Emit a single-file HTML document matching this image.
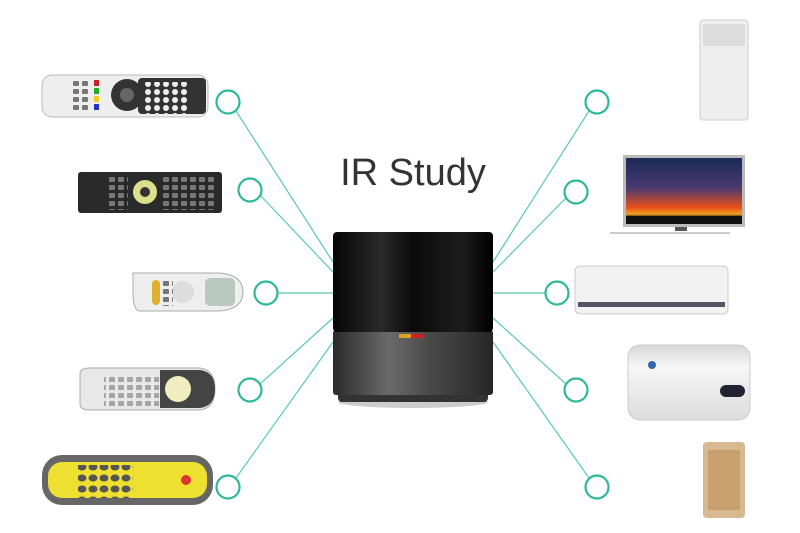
<!DOCTYPE html>
<html><head><meta charset="utf-8"><style>
html,body{margin:0;padding:0;background:#fff;}
svg{display:block;}
</style></head><body>
<svg width="800" height="533" viewBox="0 0 800 533" xmlns="http://www.w3.org/2000/svg">
<defs>
<linearGradient id="blk" x1="0" x2="1"><stop offset="0" stop-color="#050505"/><stop offset="0.3" stop-color="#2a2a2a"/><stop offset="0.5" stop-color="#0a0a0a"/><stop offset="0.8" stop-color="#1c1c1c"/><stop offset="1" stop-color="#000"/></linearGradient>
<linearGradient id="gry" x1="0" x2="1"><stop offset="0" stop-color="#2a2a2a"/><stop offset="0.35" stop-color="#6a6a6a"/><stop offset="0.6" stop-color="#4a4a4a"/><stop offset="1" stop-color="#262626"/></linearGradient>
<linearGradient id="sky" x1="0" y1="0" x2="0" y2="1"><stop offset="0" stop-color="#1a2a55"/><stop offset="0.45" stop-color="#4a3a70"/><stop offset="0.75" stop-color="#e8501a"/><stop offset="0.85" stop-color="#f0a020"/><stop offset="0.9" stop-color="#111"/></linearGradient>
<linearGradient id="cyl" x1="0" y1="0" x2="0" y2="1"><stop offset="0" stop-color="#d8d8d8"/><stop offset="0.3" stop-color="#f6f6f6"/><stop offset="1" stop-color="#dcdcdc"/></linearGradient>
<pattern id="btnw" width="9" height="8" patternUnits="userSpaceOnUse"><circle cx="4" cy="4" r="3" fill="#eee"/></pattern>
<pattern id="btnd" width="9" height="8" patternUnits="userSpaceOnUse"><rect x="1" y="1" width="6" height="5" rx="1" fill="#777"/></pattern>
<pattern id="btny" width="11" height="11" patternUnits="userSpaceOnUse"><ellipse cx="5" cy="5" rx="4.5" ry="3.5" fill="#555"/></pattern>
</defs>
<g stroke="#5cc8b0" stroke-width="1.2" fill="none">
<line x1="236" y1="111" x2="333" y2="262"/>
<line x1="261" y1="196" x2="333" y2="272"/>
<line x1="278" y1="293" x2="333" y2="293"/>
<line x1="260" y1="384" x2="333" y2="318"/>
<line x1="236" y1="478" x2="333" y2="342"/>
<line x1="589" y1="111" x2="493" y2="262"/>
<line x1="566" y1="198" x2="493" y2="272"/>
<line x1="545" y1="293" x2="493" y2="293"/>
<line x1="566" y1="384" x2="493" y2="318"/>
<line x1="589" y1="478" x2="493" y2="342"/>
</g>
<g stroke="#2db89a" stroke-width="2.2" fill="#fff">
<circle cx="228" cy="102" r="11.5"/><circle cx="250" cy="190" r="11.5"/><circle cx="266" cy="293" r="11.5"/><circle cx="250" cy="390" r="11.5"/><circle cx="228" cy="487" r="11.5"/>
<circle cx="597" cy="102" r="11.5"/><circle cx="576" cy="192" r="11.5"/><circle cx="557" cy="293" r="11.5"/><circle cx="576" cy="390" r="11.5"/><circle cx="597" cy="487" r="11.5"/>
</g>
<text x="413" y="185" text-anchor="middle" font-family="Liberation Sans, sans-serif" font-size="38" fill="#333">IR Study</text>
<!-- hub -->
<ellipse cx="413" cy="402" rx="75" ry="6" fill="#ccc"/>
<rect x="338" y="390" width="150" height="12" rx="4" fill="#333"/>
<rect x="333" y="330" width="160" height="65" rx="3" fill="url(#gry)"/>
<rect x="333" y="232" width="160" height="100" rx="4" fill="url(#blk)"/>
<rect x="399" y="334" width="12" height="4" fill="#e0a020"/><rect x="411" y="334" width="13" height="4" fill="#d42020"/>
<!-- remotes left -->
<rect x="42" y="75" width="166" height="42" rx="10" fill="#eee" stroke="#bbb"/>
<rect x="138" y="78" width="68" height="36" rx="4" fill="#333"/>
<rect x="145" y="82" width="45" height="32" fill="url(#btnw)"/>
<circle cx="127" cy="95" r="16" fill="#333"/><circle cx="127" cy="95" r="7" fill="#666"/>
<rect x="72" y="80" width="18" height="32" fill="url(#btnd)"/>
<rect x="94" y="80" width="5" height="6" fill="#c22"/><rect x="94" y="88" width="5" height="6" fill="#2a2"/><rect x="94" y="96" width="5" height="6" fill="#ec2"/><rect x="94" y="104" width="5" height="6" fill="#23c"/>
<rect x="78" y="172" width="144" height="41" rx="3" fill="#2a2a2a"/>
<rect x="160" y="176" width="55" height="34" fill="url(#btnd)"/>
<rect x="106" y="176" width="22" height="34" fill="url(#btnd)"/>
<circle cx="145" cy="192" r="12" fill="#dde08a"/><circle cx="145" cy="192" r="5" fill="#333"/>
<path d="M133 273 H220 Q243 275 243 292 Q243 309 220 311 H140 Q133 311 133 292 Z" fill="#eee" stroke="#aaa"/>
<rect x="205" y="278" width="30" height="28" rx="5" fill="#b8c8c0"/><rect x="152" y="280" width="8" height="25" rx="4" fill="#e0b030"/>
<circle cx="183" cy="292" r="11" fill="#ddd"/><rect x="163" y="280" width="10" height="26" fill="url(#btnd)"/>
<path d="M80 374 Q80 368 90 368 H200 Q215 370 215 389 Q215 408 200 410 H90 Q80 410 80 404 Z" fill="#e8e8e8" stroke="#aaa"/>
<rect x="104" y="374" width="55" height="32" fill="url(#btnd)" opacity="0.6"/>
<path d="M160 370 H200 Q215 372 215 389 Q215 406 200 408 H160 Z" fill="#444"/><circle cx="178" cy="389" r="13" fill="#eeeec0"/>
<rect x="42" y="455" width="171" height="50" rx="20" fill="#666"/>
<rect x="48" y="462" width="159" height="36" rx="14" fill="#ede030"/>
<rect x="78" y="465" width="55" height="33" fill="url(#btny)"/>
<circle cx="186" cy="480" r="5" fill="#d33"/>
<!-- right appliances -->
<rect x="700" y="20" width="48" height="100" rx="3" fill="#eeeeee" stroke="#ccc"/>
<rect x="703" y="24" width="42" height="22" fill="#ddd"/>
<rect x="623" y="155" width="122" height="72" fill="#bbb"/>
<rect x="626" y="158" width="116" height="66" fill="url(#sky)"/>
<rect x="626" y="216" width="116" height="8" fill="#111"/>
<rect x="675" y="227" width="12" height="4" fill="#555"/><rect x="610" y="232" width="120" height="2" fill="#ccc"/>
<rect x="575" y="266" width="153" height="48" rx="5" fill="#f2f2f2" stroke="#ccc"/>
<rect x="578" y="302" width="147" height="5" fill="#556"/>
<rect x="628" y="345" width="122" height="75" rx="12" fill="url(#cyl)" stroke="#ccc"/>
<rect x="720" y="385" width="25" height="12" rx="6" fill="#223"/><circle cx="652" cy="365" r="4" fill="#36a"/>
<rect x="703" y="442" width="42" height="76" rx="4" fill="#d8b890"/>
<rect x="708" y="450" width="32" height="60" fill="#c8a070"/>
</svg>
</body></html>
